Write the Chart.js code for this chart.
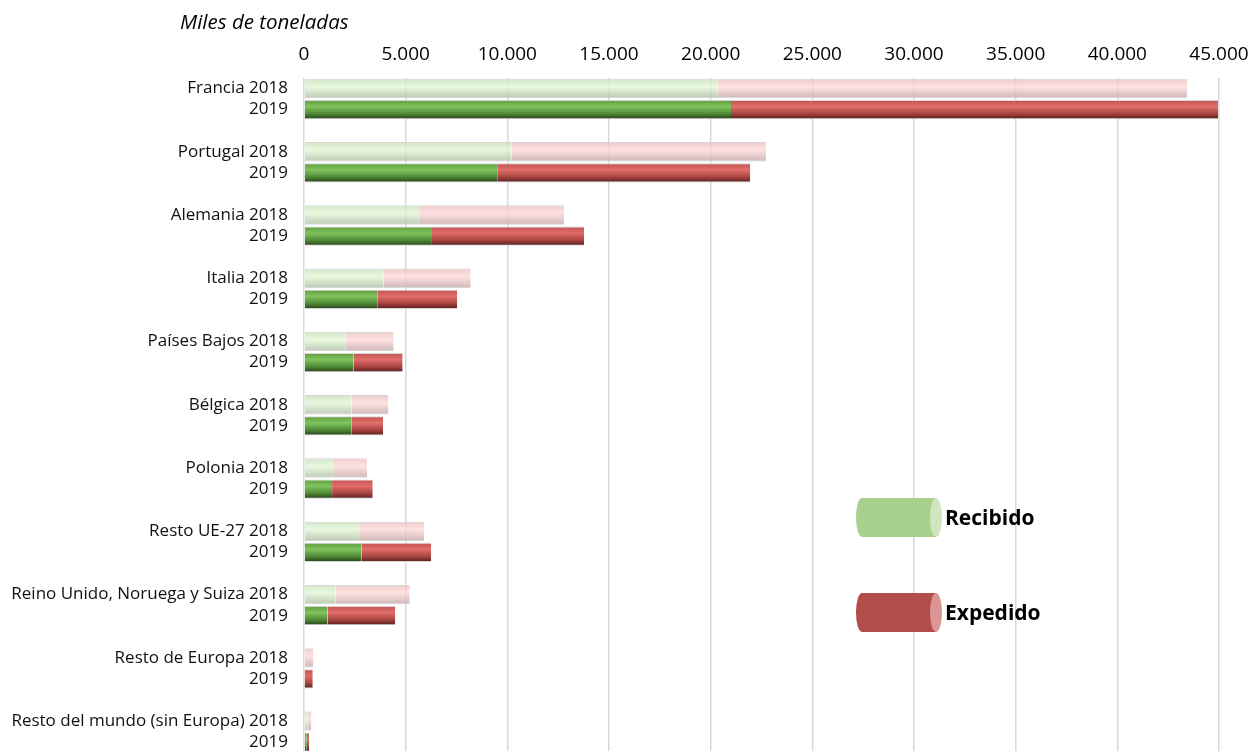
<!doctype html>
<html>
	<head>
		<meta charset="utf-8">
		<title>Miles de toneladas</title>
		<script src="https://cdn.jsdelivr.net/npm/chart.js@4/dist/chart.umd.min.js"></script>
		<style>
			html, body {
				margin: 0;
				padding: 0;
				background: #fff;
				overflow: hidden;
			}
			#wrapper {
				width: 1251px;
				height: 751px;
				overflow: hidden;
				position: relative;
			}
			#wrapper canvas {
				display: block;
			}
		</style>
	</head>
	<body>
		<div id="wrapper">
			<canvas id="canvas" width="1251" height="800"></canvas>
		</div>

		<script>
			var categories = ['Francia', 'Portugal', 'Alemania', 'Italia', 'Países Bajos', 'Bélgica',
				'Polonia', 'Resto UE-27', 'Reino Unido, Noruega y Suiza', 'Resto de Europa',
				'Resto del mundo (sin Europa)'];
			var years = ['2018', '2019'];
			var recibido2018 = [20350, 10200, 5650, 3920, 2030, 2330, 1430, 2750, 1540, 40, 160];
			var recibido2019 = [21000, 9500, 6250, 3600, 2430, 2350, 1380, 2820, 1160, 30, 140];
			var expedido2018 = [23080, 12520, 7150, 4280, 2380, 1820, 1670, 3150, 3660, 420, 200];
			var expedido2019 = [23950, 12440, 7530, 3930, 2420, 1540, 2000, 3430, 3330, 400, 110];
			var xTicks = [0, 5000, 10000, 15000, 20000, 25000, 30000, 35000, 40000, 45000];

			// every group takes three rows: 2018, 2019 and an empty spacer
			var labels = [];
			var recibido = [];
			var expedido = [];
			var rowYear = [];
			for (var i = 0; i < categories.length; i++) {
				labels.push(categories[i] + ' ' + years[0], years[1], '');
				recibido.push(recibido2018[i], recibido2019[i], null);
				expedido.push(expedido2018[i], expedido2019[i], null);
				rowYear.push(0, 1, -1);
			}

			var shades = {
				recibido: [
					[[0, 'rgba(196,220,180,0.75)'], [0.4, 'rgba(226,248,214,0.8)'], [1, 'rgba(176,190,166,0.85)']],
					[[0, '#5c9a3c'], [0.35, '#80c35e'], [0.7, '#4f8a35'], [1, '#25391a']]
				],
				expedido: [
					[[0, 'rgba(232,186,186,0.75)'], [0.4, 'rgba(255,218,218,0.8)'], [1, 'rgba(196,170,170,0.85)']],
					[[0, '#c0504d'], [0.35, '#e26e6b'], [0.7, '#a84440'], [1, '#4e1b1a']]
				]
			};

			function barFill(key, plain) {
				return function(context) {
					var chart = context.chart;
					if (context.dataIndex === undefined || !chart.chartArea || !chart.scales.y) {
						return plain;
					}
					var year = rowYear[context.dataIndex];
					if (year < 0) {
						return plain;
					}
					var y = chart.scales.y.getPixelForValue(context.dataIndex);
					var g = chart.ctx.createLinearGradient(0, y - 10, 0, y + 10);
					shades[key][year].forEach(function(s) {
						g.addColorStop(s[0], s[1]);
					});
					return g;
				};
			}

			var legendPlugin = {
				id: 'cylLegend',
				afterDraw: function(chart) {
					var c = chart.ctx;
					c.save();
					// axis title
					c.fillStyle = '#000';
					c.font = 'italic 20.5px "Open Sans"';
					c.textAlign = 'left';
					c.textBaseline = 'middle';
					c.fillText('Miles de toneladas', 180, 23);

					var top = [498, 593];
					chart.data.datasets.forEach(function(ds, k) {
						var y0 = top[k], h = 39, x0 = 856, x1 = 936, r = 6;
						c.fillStyle = ds.legendColor;
						c.beginPath();
						c.ellipse(x0 + r, y0 + h / 2, r, h / 2, 0, Math.PI / 2, Math.PI * 1.5);
						c.lineTo(x1, y0);
						c.lineTo(x1, y0 + h);
						c.closePath();
						c.fill();
						c.fillStyle = ds.legendCap;
						c.beginPath();
						c.ellipse(x1, y0 + h / 2, r, h / 2, 0, 0, Math.PI * 2);
						c.fill();
						c.fillStyle = '#000';
						c.font = 'bold 21px "Open Sans"';
						c.textAlign = 'left';
						c.textBaseline = 'middle';
						c.fillText(ds.label, 945, y0 + h / 2 + 2);
					});
					c.restore();
				}
			};

			window.onload = function() {
				var canvas = document.getElementById('canvas');
				new Chart(canvas.getContext('2d'), {
					type: 'bar',
					data: {
						labels: labels,
						datasets: [{
							label: 'Recibido',
							data: recibido,
							backgroundColor: barFill('recibido', '#a9d18e'),
							legendColor: '#a9d18e',
							legendCap: '#cfe6bf'
						}, {
							label: 'Expedido',
							data: expedido,
							backgroundColor: barFill('expedido', '#b5504b'),
							legendColor: '#b34d4a',
							legendCap: '#d99694'
						}]
					},
					options: {
						indexAxis: 'y',
						responsive: false,
						animation: false,
						layout: { padding: { top: 38, right: 0, left: 0, bottom: 0 } },
						datasets: {
							bar: {
								barPercentage: 0.92,
								categoryPercentage: 1,
								borderWidth: { top: 1, bottom: 1, left: 0, right: 0 },
								borderColor: 'rgba(210,210,210,0.9)'
							}
						},
						plugins: {
							legend: { display: false },
							tooltip: { enabled: true }
						},
						scales: {
							x: {
								position: 'top',
								stacked: true,
								min: 0,
								max: 45000,
								afterBuildTicks: function(scale) {
									scale.ticks = xTicks.map(function(v) { return { value: v }; });
								},
								afterFit: function(scale) {
									scale.height = 40;
									scale.paddingRight = 32;
								},
								grid: {
									color: '#d9d9d9',
									lineWidth: 1.5,
									drawTicks: false
								},
								border: { display: false },
								ticks: {
									padding: 12,
									color: '#000',
									font: { family: 'Open Sans', size: 19 },
									callback: function(v) {
										return String(v).replace(/\B(?=(\d{3})+(?!\d))/g, '.');
									}
								}
							},
							y: {
								stacked: true,
								afterFit: function(scale) {
									scale.width = 304;
								},
								grid: { display: false, drawTicks: false },
								border: { display: false },
								ticks: {
									autoSkip: false,
									padding: 16,
									color: '#111',
									font: { family: 'Open Sans', size: 17 }
								}
							}
						}
					},
					plugins: [legendPlugin]
				});
			};
		</script>
	</body>
</html>
